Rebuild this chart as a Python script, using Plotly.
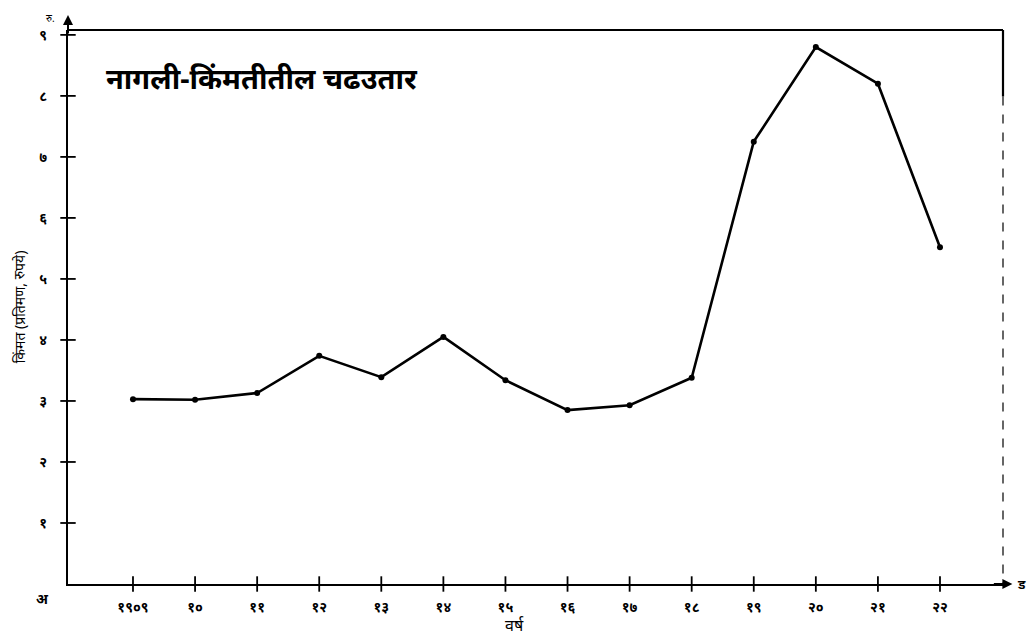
import plotly.graph_objects as go

years = [1909, 1910, 1911, 1912, 1913, 1914, 1915, 1916, 1917, 1918, 1919, 1920, 1921, 1922]
prices = [3.03, 3.02, 3.13, 3.74, 3.39, 4.05, 3.34, 2.85, 2.93, 3.38, 7.25, 8.8, 8.2, 5.52]
x_tick_labels = ["१९०९", "१०", "११", "१२", "१३", "१४", "१५", "१६", "१७", "१८", "१९", "२०", "२१", "२२"]
y_tick_values = [1, 2, 3, 4, 5, 6, 7, 8, 9]
y_tick_labels = ["१", "२", "३", "४", "५", "६", "७", "८", "९"]

title_text = "नागली-किंमतीतील चढउतार"
x_title = "वर्ष"
y_title = "किंमत (प्रतिमण, रुपये)"

FONT = "Noto Sans, DejaVu Sans, sans-serif"
X_RANGE = [1907.953, 1923.015]
Y_RANGE = [0, 9.08]

fig = go.Figure()

# tick marks crossing the axes
fig.add_trace(go.Scatter(
    x=years, y=[0] * len(years), mode="markers",
    marker=dict(symbol="line-ns-open", size=11, color="black", line=dict(color="black", width=1.8)),
    cliponaxis=False, hoverinfo="skip", showlegend=False))
fig.add_trace(go.Scatter(
    x=[X_RANGE[0]] * len(y_tick_values), y=y_tick_values, mode="markers",
    marker=dict(symbol="line-ew-open", size=11, color="black", line=dict(color="black", width=1.8)),
    cliponaxis=False, hoverinfo="skip", showlegend=False))

# price line
fig.add_trace(go.Scatter(
    x=years, y=prices, mode="lines+markers",
    line=dict(color="black", width=2.6),
    marker=dict(color="black", size=6),
    cliponaxis=False, showlegend=False))

fig.update_xaxes(
    range=X_RANGE, tickmode="array", tickvals=years, ticktext=x_tick_labels,
    showgrid=False, zeroline=False, showline=True, linecolor="black", linewidth=2,
    ticks="", tickfont=dict(family=FONT, size=14, color="black", weight="bold"),
    ticklabelstandoff=9, automargin=False)
fig.update_yaxes(
    range=Y_RANGE, tickmode="array", tickvals=y_tick_values, ticktext=y_tick_labels,
    showgrid=False, zeroline=False, showline=True, linecolor="black", linewidth=2,
    ticks="", tickfont=dict(family=FONT, size=14, color="black", weight="bold"),
    ticklabelstandoff=16, automargin=False,
    title=dict(text=y_title, font=dict(family=FONT, size=14, color="black"), standoff=10))

shapes = [
    # top frame line
    dict(type="line", xref="paper", yref="paper", x0=0, x1=1, y0=1, y1=1,
         line=dict(color="black", width=2.2)),
    # right frame line (faint/dashed)
    dict(type="line", xref="paper", yref="paper", x0=1, x1=1, y0=1, y1=0.88,
         line=dict(color="black", width=2.2)),
    dict(type="line", xref="paper", yref="paper", x0=1, x1=1, y0=0.88, y1=0,
         line=dict(color="black", width=1.2, dash="dash")),
]

annotations = [
    dict(text=title_text, xref="paper", yref="paper", x=0.038, y=0.915,
         xanchor="left", yanchor="middle", showarrow=False,
         font=dict(family=FONT, size=29, color="black", weight="bold")),
    dict(text=x_title, xref="paper", yref="paper", x=0.478, y=-0.074,
         xanchor="center", yanchor="middle", showarrow=False,
         font=dict(family=FONT, size=16, color="black")),
    # y axis arrow
    dict(xref="paper", yref="paper", x=0, y=1.027, ax=0, ay=20,
         showarrow=True, arrowhead=2, arrowsize=1, arrowwidth=2, arrowcolor="black", text=""),
    # x axis arrow
    dict(xref="paper", yref="paper", x=1.01, y=0, ax=-20, ay=0,
         showarrow=True, arrowhead=2, arrowsize=1, arrowwidth=2, arrowcolor="black", text=""),
    dict(text="रु.", xref="paper", yref="paper", x=-0.012, y=1.038, xanchor="right",
         yanchor="top", showarrow=False, font=dict(family=FONT, size=10, color="black")),
    dict(text="अ", xref="paper", yref="paper", x=-0.018, y=-0.005, xanchor="right",
         yanchor="top", showarrow=False, font=dict(family=FONT, size=14, color="black", weight="bold")),
    dict(text="ड", xref="paper", yref="paper", x=1.013, y=0, xanchor="left",
         yanchor="middle", showarrow=False, font=dict(family=FONT, size=13, color="black", weight="bold")),
]

# page body has an 8px default margin, so the figure is sized to fit the window
fig.update_layout(
    width=1028, height=627,
    margin=dict(l=60, r=33, t=22, b=51),
    paper_bgcolor="white", plot_bgcolor="white",
    shapes=shapes, annotations=annotations,
    font=dict(family=FONT, color="black"),
)

fig.write_html("out.html")
